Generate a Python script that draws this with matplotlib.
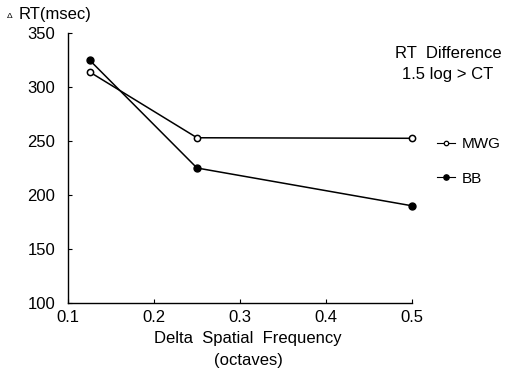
import matplotlib
matplotlib.use("Agg")
import matplotlib.pyplot as plt
from matplotlib.lines import Line2D

# Data
freq = [0.125, 0.25, 0.5]
mwg = [314, 253, 252.5]
bb = [325, 225, 190]
xticks = [0.1, 0.2, 0.3, 0.4, 0.5]
xticklabels = ["0.1", "0.2", "0.3", "0.4", "0.5"]
yticks = [100, 150, 200, 250, 300, 350]

plt.rcParams['font.family'] = ['Liberation Sans', 'DejaVu Sans']
FS = 12

fig = plt.figure(figsize=(5.07, 3.73), dpi=100)
ax = fig.add_axes([68/507, 1 - 303/373, (412-68)/507, (303-33)/373])

ax.plot(freq, mwg, color='black', lw=1.1, marker='o', ms=4.5,
        mfc='white', mec='black', mew=1.1, clip_on=False)
ax.plot(freq, bb, color='black', lw=1.1, marker='o', ms=5,
        mfc='black', mec='black', clip_on=False)

ax.set_xlim(0.1, 0.5)
ax.set_ylim(100, 350)
ax.set_xticks(xticks)
ax.set_xticklabels(xticklabels)
ax.set_yticks(yticks)
ax.spines['top'].set_visible(False)
ax.spines['right'].set_visible(False)
ax.spines['left'].set_linewidth(1.0)
ax.spines['bottom'].set_linewidth(1.0)
ax.tick_params(axis='both', direction='in', length=3, width=0.8, labelsize=FS)
ax.tick_params(axis='y', pad=9)
ax.tick_params(axis='x', pad=5)

fig.text(7/507, 1 - 17/373, "Δ", fontsize=6, va='center', ha='left')
fig.text(19/507, 1 - 14/373, "RT(msec)", fontsize=FS, va='center', ha='left')

fig.text(448/507, 1 - 53/373, "RT  Difference", fontsize=FS, ha='center', va='center')
fig.text(448/507, 1 - 75/373, "1.5 log > CT", fontsize=FS, ha='center', va='center')

fig.text(248/507, 1 - 338/373, "Delta  Spatial  Frequency", fontsize=FS, ha='center', va='center')
fig.text(248/507, 1 - 360/373, "(octaves)", fontsize=FS, ha='center', va='center')

h1 = Line2D([], [], color='black', lw=0.8, marker='o', ms=3.2, mfc='white', mec='black', mew=0.9)
h2 = Line2D([], [], color='black', lw=0.8, marker='o', ms=3.8, mfc='black', mec='black')
leg = fig.legend(handles=[h1, h2], labels=["MWG", "BB"], loc='upper left',
                 bbox_to_anchor=(437/507, 1 - 137/373), frameon=False,
                 handlelength=1.2, handletextpad=0.4, labelspacing=1.35,
                 fontsize=11, borderaxespad=0, borderpad=0)

fig.savefig("out.png", dpi=100)
